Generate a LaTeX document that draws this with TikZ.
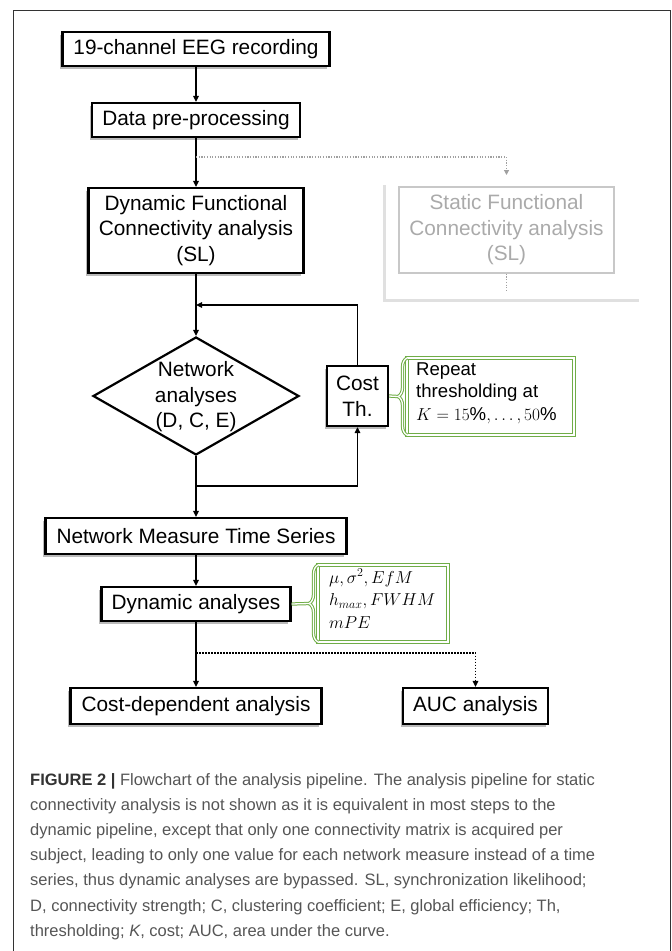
\documentclass[tikz,border=0pt]{standalone}
\usepackage{fontspec}
\setmainfont{Liberation Sans}
\usetikzlibrary{arrows.meta,shapes.geometric,shadows,decorations.pathreplacing}
\definecolor{figgreen}{RGB}{112,173,71}
\definecolor{ghost}{RGB}{200,200,200}
\definecolor{captext}{RGB}{85,85,85}

\begin{document}
\begin{tikzpicture}[x=1pt,y=1pt,yscale=-1,
    >={Triangle[length=6pt,width=5.5pt]},
    flowbox/.style={draw,line width=2.2pt,fill=white,inner sep=0pt,align=center,
      font=\fontsize{20.8}{25.5}\selectfont,
      drop shadow={shadow xshift=-2.5pt,shadow yshift=-2.5pt,fill=black!45,opacity=0.6}},
    ghostbox/.style={draw=ghost,line width=1.5pt,inner sep=0pt,align=center,
      text=ghost!85!black,font=\fontsize{20.8}{25.5}\selectfont},
    notebox/.style={inner sep=0pt,anchor=north west,align=left,font=\fontsize{18.6}{22.5}\selectfont},
    noteline/.style={draw=figgreen,double=white,double distance=1.3pt,line width=1pt},
    notebrace/.style={noteline,decorate,decoration={brace,amplitude=9pt}},
    flow/.style={->,line width=1.5pt},
    dotline/.style={line width=1.5pt,dash pattern=on 1.5pt off 1.5pt},
    ghostline/.style={ghost!80!black,line width=1.2pt,dash pattern=on 1.2pt off 1.5pt}]
  \useasboundingbox (0,0) rectangle (672,951);

  %Frame
  \draw[line width=0.8pt,black!80] (13,960) -- (13,10) -- (670.5,10) -- (670.5,960);

  % Text Node
  \node[flowbox,minimum width=267pt,minimum height=34pt] (eeg) at (196,49) {19-channel EEG recording};
  % Text Node
  \node[flowbox,minimum width=208pt,minimum height=34pt] (prep) at (196,120) {Data pre-processing};
  % Text Node
  \node[flowbox,minimum width=215pt,minimum height=85pt] (dfc) at (196,230.5) {Dynamic Functional\\Connectivity analysis\\(SL)};

  %Static branch (greyed out)
  \draw[black!12,line width=3pt] (384,185) -- (384,300) -- (639,300);
  \node[ghostbox,minimum width=215pt,minimum height=86pt] (sfc) at (506.5,230) {Static Functional\\Connectivity analysis\\(SL)};
  \coordinate (fork) at (196,157);
  \coordinate (staticin) at (506.5,175);
  \coordinate (staticout) at (506.5,292);

  %Diamond
  \node[diamond,draw,line width=2.2pt,fill=white,inner sep=0pt,minimum width=206pt,minimum height=118pt] (net) at (196,396) {};
  \node[align=center,inner sep=0pt,font=\fontsize{20.8}{25.5}\selectfont] (nettext) at (196,397) {Network\\analyses\\(D, C, E)};
  % Text Node
  \node[flowbox,minimum width=61pt,minimum height=60pt] (cost) at (357.5,396) {Cost\\Th.};
  \coordinate (loopin) at (196,305);
  \coordinate (loopout) at (196,486);

  %Green note: repeat thresholding
  \draw[noteline] (407,358) rectangle (574,435);
  \node[notebox] (repeat) at (416,362) {Repeat\\thresholding at\\$K=15\%,\ldots,50\%$};
  \draw[notebrace] (407,435) -- (407,358);
  \draw[noteline] (398,396.5) -- (cost.east);

  % Text Node
  \node[flowbox,minimum width=301pt,minimum height=36pt] (nmts) at (196,536) {Network Measure Time Series};
  % Text Node
  \node[flowbox,minimum width=189pt,minimum height=34pt] (dyn) at (196,604) {Dynamic analyses};

  %Green note: dynamic measures
  \draw[noteline] (318,565) rectangle (448,642);
  \node[notebox] (measures) at (329,569) {$\mu,\sigma^2,EfM$\\$h_{max},FWHM$\\$mPE$};
  \draw[notebrace] (318,642) -- (318,565);
  \draw[noteline] (309,603.5) -- (dyn.east);
  \coordinate (split) at (196,653);

  % Text Node
  \node[flowbox,minimum width=251pt,minimum height=36pt] (costdep) at (196,706) {Cost-dependent analysis};
  % Text Node
  \node[flowbox,minimum width=145pt,minimum height=36pt] (auc) at (475.5,706) {AUC analysis};

  %Connectors
  \draw[flow] (eeg) -- (prep);
  \draw[flow] (prep) -- (dfc);
  \draw[ghostline,-{Triangle[length=5pt,width=5pt]}] (fork) -| (staticin);
  \draw[ghostline] (sfc) -- (staticout);
  \draw[flow] (dfc) -- (net);
  \draw[flow] (cost.north) |- (loopin);
  \draw[flow] (net) -- (nmts);
  \draw[flow] (loopout) -| (cost.south);
  \draw[flow] (nmts) -- (dyn);
  \draw[flow] (dyn) -- (costdep);
  \draw[dotline,->] (split) -| (auc.north);

  %Caption
  \node[anchor=north west,inner sep=0pt,align=left,text=captext,font=\fontsize{16.5}{25.2}\selectfont] (caption) at (30,773)
    {\textcolor{black!80}{\textbf{FIGURE 2 |}} Flowchart of the analysis pipeline. The analysis pipeline for static\\
     connectivity analysis is not shown as it is equivalent in most steps to the\\
     dynamic pipeline, except that only one connectivity matrix is acquired per\\
     subject, leading to only one value for each network measure instead of a time\\
     series, thus dynamic analyses are bypassed. SL, synchronization likelihood;\\
     D, connectivity strength; C, clustering coefficient; E, global efficiency; Th,\\
     thresholding; \textit{K}, cost; AUC, area under the curve.};
\end{tikzpicture}
\end{document}
